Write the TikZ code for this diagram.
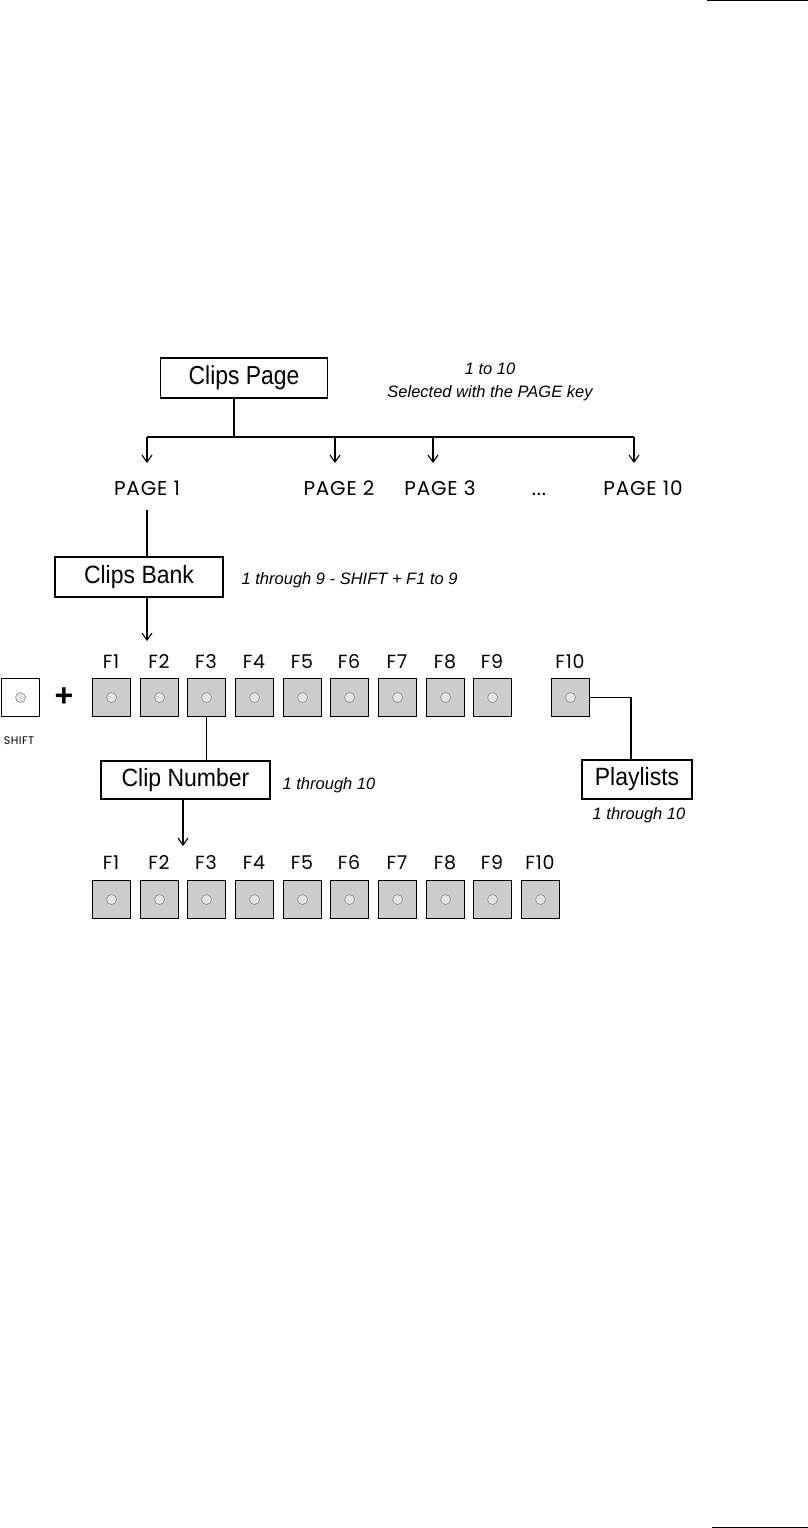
\documentclass[tikz,border=0pt]{standalone}
\usepackage{fontspec}
\setmainfont{Liberation Sans}
\newfontfamily\gothic[LetterSpace=4]{Poppins}
\newfontfamily\narrowA[FakeStretch=0.88]{Liberation Sans}
\newfontfamily\narrowB[FakeStretch=0.92]{Liberation Sans}
\usetikzlibrary{arrows.meta}
\begin{document}
\begin{tikzpicture}[x=1pt,y=-1pt,
  line width=1.3pt,
  arr/.style={-{Straight Barb[length=7pt,width=10pt,line width=1.1pt]}},
  lbox/.style={draw,line width=1.2pt,fill=white,inner sep=0pt,minimum height=40pt,font=\narrowB\fontsize{25}{27}\selectfont},
  note/.style={font=\itshape\fontsize{16.5}{18}\selectfont,inner sep=0pt},
  glab/.style={font=\gothic\fontsize{20}{22}\selectfont,inner sep=0pt,anchor=base},
  flab/.style={font=\gothic\fontsize{19}{21}\selectfont,inner sep=0pt,anchor=base},
  keybox/.style={draw,line width=1.1pt,fill=black!20,minimum width=38pt,minimum height=38pt,inner sep=0pt,anchor=north west},
  led/.style={circle,draw=black!45,line width=0.6pt,fill=black!10,minimum size=10pt,inner sep=0pt}
]
\useasboundingbox (0,0) rectangle (808,1528);
% page corner rules
\draw[line width=1.4pt] (707,0.8) -- (808,0.8);
\draw[line width=1.4pt] (712,1527.2) -- (808,1527.2);

% Clips Page
\node[lbox,minimum width=167pt,font=\narrowA\fontsize{26}{28}\selectfont] (cp) at (244,378) {Clips Page};
\node[note] (n1) at (490,369) {1 to 10};
\node[note] (n2) at (490,393) {Selected with the PAGE key};
\coordinate (j) at (234,437);
\draw (cp.south -| j) -- (j);
\coordinate (h1) at (147,437);
\coordinate (h2) at (335,437);
\coordinate (h3) at (433,437);
\coordinate (h4) at (634,437);
\draw (h1) -- (h4);
\node[glab] (p1) at (147,495) {PAGE 1};
\node[glab] (p2) at (339,495) {PAGE 2};
\node[glab] (p3) at (440,495) {PAGE 3};
\node[glab] (pd) at (539,495) {...};
\node[glab] (p10) at (643,495) {PAGE 10};
\draw[arr] (h1) -- (147,463);
\draw[arr] (h2) -- (335,463);
\draw[arr] (h3) -- (433,463);
\draw[arr] (h4) -- (634,463);

% Clips Bank
\node[lbox,minimum width=168pt] (cb) at (139,577) {Clips Bank};
\coordinate (p1b) at (147,510);
\draw (p1b) -- (p1b |- cb.north);
\node[note,anchor=west] (n3) at (241,580) {1 through 9 - SHIFT + F1 to 9};
\coordinate (cba) at (147,641);
\draw[arr] (cba |- cb.south) -- (cba);

% SHIFT key
\node[keybox,fill=white] (sh) at (1,678) {};
\node[led] at (sh.center) {};
\node[font=\gothic\fontsize{11}{12}\selectfont,inner sep=0pt] (shl) at (19,741) {SHIFT};
\node[font=\bfseries\fontsize{32}{32}\selectfont,inner sep=0pt] (plus) at (64,697) {+};

% top row
\foreach \i/\x in {1/92,2/140,3/187,4/235,5/283,6/330,7/378,8/426,9/473,10/551}{
  \node[keybox] (t\i) at (\x,678) {};
  \node[led] at (t\i.center) {};
  \node[flab] (tl\i) at (\x+19,668) {F\i};
}

% Clip Number
\node[lbox,minimum width=169pt,minimum height=38pt] (cn) at (185.5,780) {Clip Number};
\draw (t3.south) -- (t3.south |- cn.north);
\node[note,anchor=west] (n4) at (282,785) {1 through 10};
\coordinate (cna) at (183,846);
\draw[arr] (cna |- cn.south) -- (cna);

% Playlists
\node[lbox,minimum width=110pt,minimum height=39pt] (pl) at (637,779.5) {Playlists};
\draw (t10.east) -| (631,0 |- pl.north);
\node[note] (n5) at (639,815) {1 through 10};

% bottom row
\foreach \i/\x in {1/92,2/140,3/187,4/235,5/283,6/330,7/378,8/426,9/473,10/521}{
  \node[keybox] (b\i) at (\x,880) {};
  \node[led] at (b\i.center) {};
  \node[flab] (bl\i) at (\x+19,869) {F\i};
}
\end{tikzpicture}
\end{document}
